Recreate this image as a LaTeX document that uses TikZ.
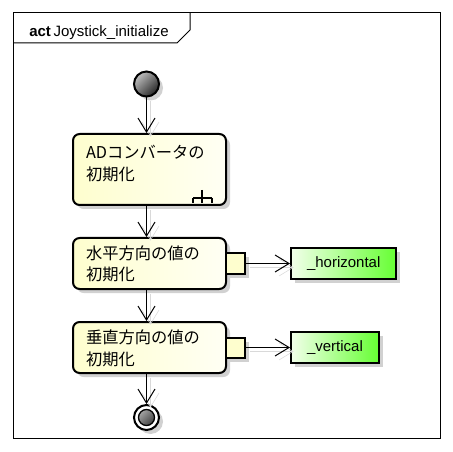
\documentclass[tikz,border=0pt]{standalone}
\usepackage{fontspec}
\setmainfont{Liberation Sans}
\newfontfamily\jp{Noto Sans CJK JP}
\usetikzlibrary{arrows.meta,shadows,calc}
\definecolor{actlight}{HTML}{FEFECE}
\definecolor{actpale}{HTML}{FFFFF4}
\definecolor{objpale}{HTML}{F2FFEA}
\definecolor{objgreen}{HTML}{66FF33}
\begin{document}
\begin{tikzpicture}
  [x=0.75pt,y=-0.75pt,
   every node/.style={font=\fontsize{11.25pt}{16.5pt}\selectfont},
   >={Straight Barb[length=10.5pt,width=12.75pt]},
   flow/.style={->,line width=0.75pt,
                preaction={draw=black!15,transform canvas={shift={(3pt,-3pt)}}}},
   umlshadow/.style={drop shadow={shadow xshift=3pt,shadow yshift=-3pt,
                                  fill=black!18,opacity=1}},
   act/.style={rectangle,rounded corners=5pt,
               line width=1.5pt,draw=black,
               left color=actlight,right color=actpale,
               umlshadow,
               font=\jp\fontsize{12.2pt}{16.5pt}\selectfont,
               text width=95.25pt,align=left,
               inner xsep=9.75pt,inner ysep=0pt,
               text height=15.75pt,text depth=22.5pt},
   actpin/.style={rectangle,line width=1.5pt,draw=black,fill=actlight,
                  minimum width=14.25pt,minimum height=15pt,inner sep=0pt,
                  umlshadow},
   obj/.style={rectangle,line width=1.5pt,draw=black,
               left color=objpale,right color=objgreen,
               %top color = white,
               minimum height=23.25pt,inner xsep=12pt,inner ysep=0pt,
               umlshadow},
   startnode/.style={circle,line width=1.5pt,draw=black,
                     minimum size=18.75pt,inner sep=0pt,
                     top color=black!25,bottom color=black!85,shading angle=45,
                     umlshadow},
   endnode/.style={circle,line width=1.5pt,draw=black,fill=white,
                   minimum size=18.75pt,inner sep=0pt,umlshadow,
                   path picture={\shade[draw=black,line width=1pt,
                                        top color=black!25,bottom color=black!85,
                                        shading angle=45]
                                   (path picture bounding box.center) circle (6pt);}},
   rake/.style={line width=1.5pt}]
  \useasboundingbox (0,0) rectangle (453,452);

  % frame
  \draw[line width=0.75pt] (13,13) rectangle (440,438);
  \draw[line width=0.75pt] (13,43) -- (177,43) -- (190,30) -- (190,13);
  \node[anchor=base west,inner sep=0pt] (title) at (29,37)
    {\textbf{act}\hspace{2pt}Joystick\_initialize};

  \node[startnode] (start) at (146.5,84) {};
  \node[act,anchor=north,text height=18.75pt,text depth=34.5pt] (adc) at (149.5,133)
    {ADコンバータの\\初期化};
  \node[act,anchor=north] (horiz) at (149.5,237) {水平方向の値の\\初期化};
  \node[act,anchor=north] (vert) at (149.5,321) {垂直方向の値の\\初期化};
  \node[endnode] (end) at (146.5,417.5) {};

  \node[actpin] (pinh) at (235.5,263.5) {};
  \node[actpin] (pinv) at (235.5,347.5) {};
  \node[obj,anchor=west] (objh) at (290,263.5) {\_horizontal};
  \node[obj,anchor=west] (objv) at (290,347.5) {\_vertical};

  % rake icon
  \begin{scope}[shift={(adc.south east)}]
    \draw[rake] (-25,-16) -- (-25,-8);
    \draw[rake] (-34,-8) -- (-15,-8);
    \draw[rake] (-34,-8) -- (-34,-3) (-25,-8) -- (-25,-3) (-15,-8) -- (-15,-3);
  \end{scope}

  \draw[flow] (start) -- (start |- adc.north);
  \draw[flow] (adc.south -| start) -- (horiz.north -| start);
  \draw[flow] (horiz.south -| start) -- (vert.north -| start);
  \draw[flow] (vert.south -| start) -- (end);
  \draw[flow] (pinh) -- (objh);
  \draw[flow] (pinv) -- (objv);
\end{tikzpicture}
\end{document}
